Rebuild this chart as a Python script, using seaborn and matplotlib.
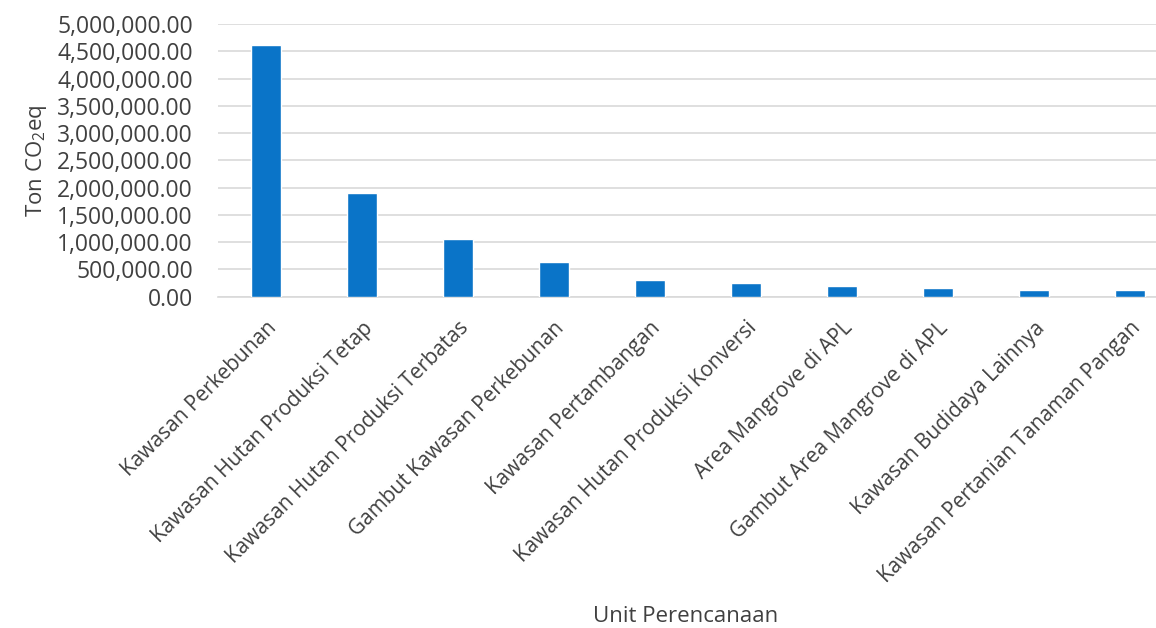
import matplotlib
matplotlib.use("Agg")
import matplotlib.pyplot as plt
import seaborn as sns
import pandas as pd
from matplotlib.ticker import FuncFormatter, MultipleLocator

# Emissions per planning unit (ton CO2eq)
units = [
    "Kawasan Perkebunan",
    "Kawasan Hutan Produksi Tetap",
    "Kawasan Hutan Produksi Terbatas",
    "Gambut Kawasan Perkebunan",
    "Kawasan Pertambangan",
    "Kawasan Hutan Produksi Konversi",
    "Area Mangrove di APL",
    "Gambut Area Mangrove di APL",
    "Kawasan Budidaya Lainnya",
    "Kawasan Pertanian Tanaman Pangan",
]
emissions = [4610000, 1910000, 1050000, 630000, 310000,
             260000, 200000, 165000, 130000, 125000]

df = pd.DataFrame({"unit": units, "emisi": emissions})

sns.set_theme(style="white")
plt.rcParams["font.family"] = ["Open Sans", "DejaVu Sans"]
plt.rcParams["mathtext.fontset"] = "custom"
plt.rcParams["mathtext.rm"] = "Open Sans"

text_color = "#404040"
fig = plt.figure(figsize=(11.56, 6.28), dpi=100)
ax = fig.add_axes([218 / 1156, 1 - 296.7 / 628, 960 / 1156, (296.7 - 24) / 628])

sns.barplot(data=df, x="unit", y="emisi", color="#0A74C8", width=0.31,
            saturation=1, ax=ax, zorder=3)

ax.set_ylim(0, 5000000)
ax.set_xlim(-0.5, len(units) - 0.5)
ax.yaxis.set_major_locator(MultipleLocator(500000))
ax.yaxis.set_major_formatter(FuncFormatter(lambda v, p: f"{v:,.2f}"))
ax.grid(axis="y", color="#d9d9d9", linewidth=1.2, zorder=0)
ax.set_axisbelow(True)

for s in ["top", "right", "left"]:
    ax.spines[s].set_visible(False)
ax.spines["bottom"].set_color("#d9d9d9")
ax.spines["bottom"].set_linewidth(1.2)

ax.tick_params(axis="y", length=0, pad=18, labelsize=16.5, labelcolor=text_color)
ax.tick_params(axis="x", length=0, pad=15, labelsize=15, labelcolor=text_color)
for lab in ax.get_xticklabels():
    lab.set_rotation(45)
    lab.set_ha("right")
    lab.set_va("top")
    lab.set_rotation_mode("anchor")

ax.set_ylabel("Ton CO$_\\mathregular{2}$eq", fontsize=16, color=text_color, labelpad=6)
ax.set_xlabel("Unit Perencanaan", fontsize=16, color=text_color, va="top")
ax.xaxis.set_label_coords((686 - 218) / 960, -(606 - 296.7) / (296.7 - 24))

fig.savefig("out.png", dpi=100, facecolor="white")
